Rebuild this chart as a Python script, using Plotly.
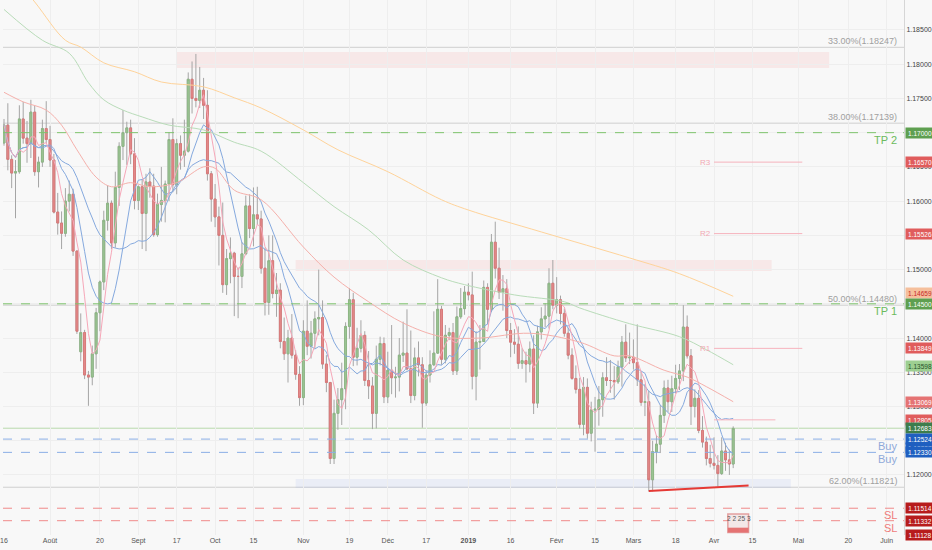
import pandas as pd
import plotly.graph_objects as go

first_day = "2018-07-16"
last_axis_day = "2019-06-07"

# EUR/USD daily bars, 16 juil. 2018 -> 8 avr. 2019
opens = [
    # juil.
    1.1685, 1.1711, 1.1661, 1.1641, 1.1643, 1.1720, 1.1692, 1.1684, 1.1730, 1.1643, 1.1657, 1.1706,
    # août
    1.1690, 1.1660, 1.1584, 1.1568, 1.1553, 1.1600, 1.1610, 1.1527, 1.1380, 1.1408, 1.1346, 1.1343,
    1.1377, 1.1437, 1.1482, 1.1572, 1.1597, 1.1539, 1.1620, 1.1680, 1.1700, 1.1707, 1.1669,
    # sept.
    1.1601, 1.1621, 1.1582, 1.1628, 1.1622, 1.1551, 1.1595, 1.1601, 1.1625, 1.1690, 1.1624, 1.1684,
    1.1667, 1.1673, 1.1778, 1.1750, 1.1747, 1.1762, 1.1740, 1.1640,
    # oct.
    1.1603, 1.1577, 1.1550, 1.1478, 1.1516, 1.1524, 1.1490, 1.1490, 1.1523, 1.1593, 1.1560, 1.1580,
    1.1574, 1.1502, 1.1452, 1.1513, 1.1465, 1.1470, 1.1395, 1.1377, 1.1400, 1.1375, 1.1347,
    # nov.
    1.1313, 1.1410, 1.1388, 1.1407, 1.1428, 1.1430, 1.1362, 1.1335, 1.1224, 1.1290, 1.1310, 1.1326,
    1.1417, 1.1456, 1.1372, 1.1385, 1.1404, 1.1338, 1.1330, 1.1290, 1.1369, 1.1392,
    # déc.
    1.1314, 1.1353, 1.1342, 1.1343, 1.1375, 1.1378, 1.1355, 1.1316, 1.1371, 1.1361, 1.1305, 1.1346,
    1.1361, 1.1378, 1.1442, 1.1369, 1.1404, 1.1408, 1.1352, 1.1431, 1.1443,
    # janv.
    1.1467, 1.1463, 1.1344, 1.1394, 1.1395, 1.1474, 1.1442, 1.1540, 1.1502, 1.1467, 1.1472, 1.1411,
    1.1394, 1.1391, 1.1363, 1.1367, 1.1362, 1.1384, 1.1305, 1.1409, 1.1428, 1.1432, 1.1480,
    # févr.
    1.1448, 1.1456, 1.1436, 1.1407, 1.1375, 1.1341, 1.1325, 1.1274, 1.1328, 1.1261, 1.1295, 1.1296,
    1.1310, 1.1342, 1.1338, 1.1338, 1.1336, 1.1358, 1.1394, 1.1371,
    # mars
    1.1372, 1.1364, 1.1339, 1.1306, 1.1307, 1.1193, 1.1234, 1.1245, 1.1287, 1.1327, 1.1307, 1.1326,
    1.1341, 1.1352, 1.1416, 1.1374, 1.1300, 1.1312, 1.1265, 1.1248, 1.1224,
    # avr.
    1.1217, 1.1214, 1.1202, 1.1235, 1.1222, 1.1216,
]
highs = [
    1.1720, 1.1743, 1.1667, 1.1660, 1.1740, 1.1745, 1.1717, 1.1748, 1.1739, 1.1665, 1.1719, 1.1746,
    1.1710, 1.1669, 1.1612, 1.1585, 1.1619, 1.1630, 1.1618, 1.1528, 1.1436, 1.1412, 1.1352, 1.1389,
    1.1444, 1.1484, 1.1586, 1.1623, 1.1601, 1.1643, 1.1686, 1.1733, 1.1716, 1.1719, 1.1692,
    1.1623, 1.1632, 1.1640, 1.1648, 1.1640, 1.1611, 1.1650, 1.1630, 1.1701, 1.1721, 1.1691, 1.1696,
    1.1719, 1.1788, 1.1804, 1.1815, 1.1796, 1.1780, 1.1762, 1.1644,
    1.1625, 1.1592, 1.1598, 1.1530, 1.1547, 1.1526, 1.1503, 1.1540, 1.1608, 1.1610, 1.1620, 1.1621,
    1.1586, 1.1532, 1.1550, 1.1550, 1.1495, 1.1480, 1.1430, 1.1412, 1.1435, 1.1382, 1.1359,
    1.1426, 1.1455, 1.1425, 1.1439, 1.1500, 1.1455, 1.1375, 1.1336, 1.1310, 1.1327, 1.1364, 1.1423,
    1.1473, 1.1466, 1.1415, 1.1426, 1.1410, 1.1381, 1.1343, 1.1389, 1.1402, 1.1401,
    1.1380, 1.1419, 1.1358, 1.1400, 1.1424, 1.1442, 1.1411, 1.1386, 1.1395, 1.1372, 1.1353, 1.1382,
    1.1439, 1.1486, 1.1447, 1.1419, 1.1415, 1.1422, 1.1446, 1.1473, 1.1476,
    1.1480, 1.1497, 1.1410, 1.1419, 1.1484, 1.1480, 1.1552, 1.1570, 1.1532, 1.1492, 1.1486, 1.1422,
    1.1413, 1.1417, 1.1385, 1.1380, 1.1395, 1.1404, 1.1418, 1.1445, 1.1451, 1.1502, 1.1514,
    1.1489, 1.1462, 1.1443, 1.1415, 1.1385, 1.1360, 1.1342, 1.1343, 1.1341, 1.1307, 1.1314, 1.1330,
    1.1350, 1.1372, 1.1368, 1.1359, 1.1367, 1.1403, 1.1420, 1.1408,
    1.1398, 1.1420, 1.1351, 1.1333, 1.1323, 1.1250, 1.1258, 1.1302, 1.1338, 1.1339, 1.1345, 1.1361,
    1.1362, 1.1448, 1.1433, 1.1384, 1.1325, 1.1324, 1.1286, 1.1256, 1.1244,
    1.1255, 1.1229, 1.1255, 1.1247, 1.1237, 1.1271,
]
lows = [
    1.1681, 1.1645, 1.1619, 1.1575, 1.1640, 1.1684, 1.1656, 1.1663, 1.1637, 1.1620, 1.1650, 1.1685,
    1.1650, 1.1582, 1.1551, 1.1530, 1.1548, 1.1585, 1.1520, 1.1406, 1.1366, 1.1340, 1.1301, 1.1331,
    1.1355, 1.1410, 1.1470, 1.1557, 1.1530, 1.1532, 1.1593, 1.1660, 1.1653, 1.1654, 1.1588,
    1.1587, 1.1530, 1.1527, 1.1605, 1.1548, 1.1548, 1.1570, 1.1569, 1.1600, 1.1613, 1.1610, 1.1646,
    1.1650, 1.1671, 1.1728, 1.1737, 1.1736, 1.1720, 1.1630, 1.1570,
    1.1562, 1.1506, 1.1466, 1.1463, 1.1480, 1.1432, 1.1429, 1.1473, 1.1521, 1.1546, 1.1534, 1.1565,
    1.1494, 1.1433, 1.1434, 1.1458, 1.1431, 1.1385, 1.1368, 1.1335, 1.1370, 1.1339, 1.1301,
    1.1302, 1.1375, 1.1370, 1.1385, 1.1404, 1.1355, 1.1321, 1.1216, 1.1216, 1.1266, 1.1273, 1.1296,
    1.1399, 1.1359, 1.1360, 1.1379, 1.1330, 1.1311, 1.1267, 1.1268, 1.1360, 1.1305,
    1.1305, 1.1318, 1.1313, 1.1322, 1.1365, 1.1353, 1.1305, 1.1309, 1.1344, 1.1269, 1.1301, 1.1335,
    1.1359, 1.1377, 1.1361, 1.1363, 1.1397, 1.1346, 1.1346, 1.1428, 1.1434,
    1.1455, 1.1325, 1.1309, 1.1354, 1.1395, 1.1420, 1.1438, 1.1487, 1.1457, 1.1440, 1.1400, 1.1372,
    1.1377, 1.1355, 1.1355, 1.1335, 1.1350, 1.1289, 1.1298, 1.1398, 1.1416, 1.1414, 1.1442,
    1.1436, 1.1420, 1.1402, 1.1369, 1.1339, 1.1319, 1.1268, 1.1258, 1.1253, 1.1249, 1.1234, 1.1272,
    1.1285, 1.1330, 1.1320, 1.1310, 1.1333, 1.1329, 1.1365, 1.1362,
    1.1354, 1.1330, 1.1301, 1.1286, 1.1176, 1.1176, 1.1217, 1.1232, 1.1276, 1.1292, 1.1292, 1.1319,
    1.1324, 1.1337, 1.1370, 1.1273, 1.1284, 1.1261, 1.1240, 1.1214, 1.1211,
    1.1208, 1.1183, 1.1200, 1.1206, 1.1200, 1.1210,
]
closes = [
    1.1711, 1.1661, 1.1641, 1.1643, 1.1720, 1.1692, 1.1684, 1.1730, 1.1643, 1.1657, 1.1706, 1.1690,
    1.1660, 1.1584, 1.1568, 1.1553, 1.1600, 1.1610, 1.1527, 1.1410, 1.1408, 1.1346, 1.1343, 1.1377,
    1.1437, 1.1482, 1.1572, 1.1597, 1.1539, 1.1620, 1.1680, 1.1700, 1.1707, 1.1669, 1.1601,
    1.1621, 1.1582, 1.1628, 1.1622, 1.1551, 1.1595, 1.1601, 1.1625, 1.1690, 1.1624, 1.1684, 1.1667,
    1.1673, 1.1778, 1.1750, 1.1747, 1.1762, 1.1740, 1.1640, 1.1603,
    1.1577, 1.1550, 1.1478, 1.1516, 1.1524, 1.1490, 1.1490, 1.1523, 1.1593, 1.1560, 1.1580, 1.1574,
    1.1502, 1.1452, 1.1513, 1.1465, 1.1470, 1.1395, 1.1377, 1.1400, 1.1375, 1.1347, 1.1313,
    1.1410, 1.1388, 1.1407, 1.1428, 1.1430, 1.1362, 1.1335, 1.1224, 1.1290, 1.1310, 1.1326, 1.1417,
    1.1456, 1.1372, 1.1385, 1.1404, 1.1338, 1.1330, 1.1290, 1.1369, 1.1392, 1.1314,
    1.1353, 1.1342, 1.1343, 1.1375, 1.1378, 1.1355, 1.1316, 1.1371, 1.1361, 1.1305, 1.1346, 1.1361,
    1.1378, 1.1442, 1.1369, 1.1404, 1.1408, 1.1352, 1.1431, 1.1443, 1.1467,
    1.1463, 1.1344, 1.1394, 1.1395, 1.1474, 1.1442, 1.1540, 1.1502, 1.1467, 1.1472, 1.1411, 1.1394,
    1.1391, 1.1363, 1.1367, 1.1362, 1.1384, 1.1305, 1.1409, 1.1428, 1.1432, 1.1480, 1.1448,
    1.1456, 1.1436, 1.1407, 1.1375, 1.1341, 1.1325, 1.1274, 1.1328, 1.1261, 1.1295, 1.1296, 1.1310,
    1.1342, 1.1338, 1.1338, 1.1336, 1.1358, 1.1394, 1.1371, 1.1372,
    1.1364, 1.1339, 1.1306, 1.1307, 1.1193, 1.1234, 1.1245, 1.1287, 1.1327, 1.1307, 1.1326, 1.1341,
    1.1352, 1.1416, 1.1374, 1.1300, 1.1312, 1.1265, 1.1248, 1.1224, 1.1217,
    1.1214, 1.1202, 1.1235, 1.1222, 1.1216, 1.1268,
]

# long moving averages, sampled off the chart
ma200_dates = ["2018-07-16", "2018-07-26", "2018-08-07", "2018-08-13", "2018-08-21", "2018-08-31",
               "2018-09-11", "2018-09-26", "2018-10-08", "2018-10-17", "2018-11-01", "2018-11-14",
               "2018-12-03", "2018-12-21", "2019-01-01", "2019-01-28", "2019-02-28", "2019-03-19",
               "2019-04-08"]
ma200_vals = [1.1946, 1.1891, 1.1835, 1.1825, 1.1802, 1.1789, 1.1774, 1.1767, 1.1751, 1.1736,
              1.1704, 1.1675, 1.1643, 1.1602, 1.1587, 1.1555, 1.1517, 1.1494, 1.1461]
ma100_dates = ["2018-07-16", "2018-07-30", "2018-08-08", "2018-08-15", "2018-08-21", "2018-08-28",
               "2018-09-04", "2018-09-13", "2018-09-26", "2018-10-08", "2018-10-17", "2018-11-01",
               "2018-11-13", "2018-11-26", "2018-12-07", "2018-12-21", "2018-12-31", "2019-01-17",
               "2019-02-05", "2019-02-11", "2019-02-28", "2019-03-19", "2019-03-28", "2019-04-08"]
ma100_vals = [1.1880, 1.1835, 1.1816, 1.1773, 1.1748, 1.1733, 1.1723, 1.1711, 1.1704, 1.1686,
              1.1673, 1.1627, 1.1592, 1.1558, 1.1514, 1.1488, 1.1478, 1.1463, 1.1453, 1.1444,
              1.1421, 1.1402, 1.1383, 1.1361]
ma50_dates = ["2018-07-16", "2018-07-23", "2018-07-31", "2018-08-06", "2018-08-10", "2018-08-17",
              "2018-08-23", "2018-08-30", "2018-09-06", "2018-09-17", "2018-09-26", "2018-10-01",
              "2018-10-08", "2018-10-17", "2018-11-01", "2018-11-13", "2018-11-26", "2018-12-07",
              "2018-12-21", "2019-01-04", "2019-01-23", "2019-02-11", "2019-02-22", "2019-02-28",
              "2019-03-13", "2019-03-21", "2019-03-28", "2019-04-08"]
ma50_vals = [1.1759, 1.1745, 1.1733, 1.1711, 1.1675, 1.1635, 1.1621, 1.1627, 1.1621, 1.1627,
             1.1650, 1.1648, 1.1616, 1.1602, 1.1533, 1.1489, 1.1453, 1.1422, 1.1402, 1.1400,
             1.1407, 1.1394, 1.1374, 1.1374, 1.1353, 1.1343, 1.1329, 1.1307]

# drawn levels
fib_levels = [1.18247, 1.17139, 1.14480, 1.11821]
fib_texts = ["33.00%(1.18247)", "38.00%(1.17139)", "50.00%(1.14480)", "62.00%(1.11821)"]
tp_levels = [1.17000, 1.14500]
tp_texts = ["TP 2", "TP 1"]
buy_levels = [1.12524, 1.12330]
sl_levels = [1.11514, 1.11332]
pivot_levels = [1.16570, 1.15526, 1.13849, 1.12805]
pivot_names = ["R3", "R2", "R1", ""]
pivot_start = "2019-04-01"
pivot_ends = ["2019-05-02", "2019-05-02", "2019-05-02", "2019-04-23"]
last_price = 1.12683

zone_starts = ["2018-09-17", "2018-10-30", "2018-10-30"]
zone_ends = ["2019-05-13", "2019-04-22", "2019-04-29"]
zone_lows = [1.17945, 1.14980, 1.11810]
zone_highs = [1.18179, 1.15140, 1.11942]
zone_fills = ["rgba(240,150,150,0.16)", "rgba(240,150,150,0.16)", "rgba(150,170,235,0.14)"]

trend_dates = ["2019-03-07", "2019-04-12"]
trend_vals = [1.11765, 1.11845]

# economic-calendar marker under the last bars
event_text = "2 2 25 3"
event_dates = ["2019-04-05", "2019-04-12"]
event_range = [1.11160, 1.11430]

# price-scale tags on the right
tag_prices = [1.17000, 1.16570, 1.15526, 1.14659, 1.14500, 1.13849, 1.13598, 1.13069,
              1.12805, 1.12683, 1.12387, 1.12524, 1.12330, 1.11514, 1.11332, 1.11128]
tag_colors = ["#5e9f50", "#e05c5c", "#e05c5c", "#f5bf9c", "#5e9f50", "#e05c5c", "#9dcf91", "#e57373",
              "#e05c5c", "#3d7d4c", "#1f5fc0", "#1f5fc0", "#1f5fc0", "#b71c1c", "#b71c1c", "#b71c1c"]
tag_text_colors = ["white"] * 3 + ["#c62828"] + ["white"] * 2 + ["#24502a"] + ["white"] * 9

tick_prices = [1.120, 1.125, 1.130, 1.135, 1.140, 1.145, 1.150, 1.155, 1.160, 1.165, 1.170,
               1.175, 1.180, 1.185]
date_ticks = ["2018-07-16", "2018-08-01", "2018-08-20", "2018-09-03", "2018-09-17", "2018-10-01",
              "2018-10-15", "2018-11-01", "2018-11-19", "2018-12-03", "2018-12-17", "2019-01-01",
              "2019-01-16", "2019-02-01", "2019-02-15", "2019-03-01", "2019-03-18", "2019-04-01",
              "2019-04-15", "2019-05-01", "2019-05-20", "2019-06-03"]
date_labels = ["16", "Août", "20", "Sept", "17", "Oct", "15", "Nov", "19", "Déc", "17", "<b>2019</b>",
               "16", "Févr", "15", "Mars", "18", "Avr", "15", "Mai", "20", "Juin"]

days = pd.bdate_range(first_day, last_axis_day).strftime("%Y-%m-%d").tolist()
bars = days[:len(closes)]
pos = {d: i for i, d in enumerate(days)}

close_s = pd.Series(closes)
sma5 = close_s.rolling(5, min_periods=1).mean()
sma10 = close_s.rolling(10, min_periods=1).mean()
sma20 = close_s.rolling(20, min_periods=1).mean()
body_top = [max(o, c) for o, c in zip(opens, closes)]
body_bot = [min(o, c) for o, c in zip(opens, closes)]

font = "Liberation Sans, Arial, sans-serif"
up_col = "#9dc595"
down_col = "#e48b8b"
fig = go.Figure()

shapes = []
for x0, x1, lo, hi, fc in zip(zone_starts, zone_ends, zone_lows, zone_highs, zone_fills):
    shapes.append(dict(type="rect", xref="x", yref="y", x0=pos[x0], x1=pos[x1], y0=lo, y1=hi,
                       fillcolor=fc, line=dict(width=0), layer="below"))
for lv in fib_levels:
    shapes.append(dict(type="line", xref="paper", yref="y", x0=0, x1=1, y0=lv, y1=lv,
                       line=dict(color="#cfcfcf", width=1), layer="below"))
shapes.append(dict(type="line", xref="paper", yref="y", x0=0, x1=1, y0=last_price, y1=last_price,
                   line=dict(color="#b9d9ac", width=1), layer="below"))
for lv in tp_levels:
    shapes.append(dict(type="line", xref="paper", yref="y", x0=0, x1=1, y0=lv, y1=lv,
                       line=dict(color="#7dc36b", width=1, dash="dash")))
for lv in buy_levels:
    shapes.append(dict(type="line", xref="paper", yref="y", x0=0, x1=1, y0=lv, y1=lv,
                       line=dict(color="#8aaee6", width=1, dash="dash")))
for lv in sl_levels:
    shapes.append(dict(type="line", xref="paper", yref="y", x0=0, x1=1, y0=lv, y1=lv,
                       line=dict(color="#f08a8a", width=1, dash="dash")))
for lv, end in zip(pivot_levels, pivot_ends):
    shapes.append(dict(type="line", xref="x", yref="y", x0=pos[pivot_start], x1=pos[end], y0=lv, y1=lv,
                       line=dict(color="#f6b3bd", width=1)))
shapes.append(dict(type="line", xref="x", yref="y", x0=pos[trend_dates[0]], x1=pos[trend_dates[1]],
                   y0=trend_vals[0], y1=trend_vals[1], line=dict(color="#e53935", width=2)))
# calendar badge
shapes.append(dict(type="rect", xref="x", yref="y", x0=pos[event_dates[0]] - 0.4, x1=pos[event_dates[1]],
                   y0=event_range[0], y1=event_range[1], fillcolor="#f3e7e7",
                   line=dict(color="#e3a0a0", width=1.5)))
shapes.append(dict(type="rect", xref="x", yref="y", x0=pos[event_dates[0]] - 0.4, x1=pos[event_dates[1]],
                   y0=event_range[0], y1=event_range[0] + 0.0007, fillcolor="#e57373",
                   line=dict(width=0)))

for vals, col in [(sma20, "#85a9de"), (sma10, "#85a9de"), (sma5, "#f6a7b8")]:
    fig.add_trace(go.Scatter(x=bars, y=vals, mode="lines", line=dict(color=col, width=1),
                             hoverinfo="skip"))
for dts, vals, col in [(ma200_dates, ma200_vals, "#ffd39a"), (ma100_dates, ma100_vals, "#b9dcb9"),
                       (ma50_dates, ma50_vals, "#f5b0ab")]:
    fig.add_trace(go.Scatter(x=dts, y=vals, mode="lines", line=dict(color=col, width=1, shape="spline"),
                             hoverinfo="skip"))

# gray wicks
fig.add_trace(go.Candlestick(
    x=bars, open=opens, high=highs, low=lows, close=closes,
    increasing=dict(line=dict(color="#a5a5a5", width=1), fillcolor=up_col),
    decreasing=dict(line=dict(color="#a5a5a5", width=1), fillcolor=down_col),
    whiskerwidth=0,
))
# coloured bodies on top
fig.add_trace(go.Candlestick(
    x=bars, open=opens, high=body_top, low=body_bot, close=closes,
    increasing=dict(line=dict(color="#8db785", width=1), fillcolor=up_col),
    decreasing=dict(line=dict(color="#d97a7a", width=1), fillcolor=down_col),
    whiskerwidth=0, hoverinfo="skip",
))

ann = []
for lv, t in zip(fib_levels, fib_texts):
    ann.append(dict(xref="paper", yref="y", x=0.995, y=lv, text=t, showarrow=False, xanchor="right",
                    yanchor="bottom", yshift=-1, font=dict(size=9, color="#a0a0a0", family=font)))
for lv, t in zip(tp_levels, tp_texts):
    ann.append(dict(xref="paper", yref="y", x=0.995, y=lv, text=t, showarrow=False, xanchor="right",
                    yanchor="top", yshift=1, font=dict(size=11, color="#6cbb5c", family=font)))
for lv in buy_levels:
    ann.append(dict(xref="paper", yref="y", x=0.995, y=lv, text="Buy", showarrow=False, xanchor="right",
                    yanchor="top", yshift=1, font=dict(size=11, color="#8fa9d9", family=font)))
for lv in sl_levels:
    ann.append(dict(xref="paper", yref="y", x=0.995, y=lv, text="SL", showarrow=False, xanchor="right",
                    yanchor="top", yshift=1, font=dict(size=11, color="#ef7b7b", family=font)))
for lv, name in zip(pivot_levels, pivot_names):
    if name:
        ann.append(dict(xref="x", yref="y", x=pos[pivot_start] - 0.3, y=lv, text=name, showarrow=False,
                        xanchor="right", yanchor="middle", font=dict(size=8, color="#f2a9b4", family=font)))
ann.append(dict(xref="x", yref="y", x=(pos[event_dates[0]] + pos[event_dates[1]]) / 2, y=event_range[1],
                text=event_text, showarrow=False, xanchor="center", yanchor="middle", yshift=-5,
                font=dict(size=6.5, color="#555555", family=font)))
for p, bg, fc in zip(tag_prices, tag_colors, tag_text_colors):
    ann.append(dict(xref="paper", yref="y", x=1, y=p, text="%.5f" % p, showarrow=False, xanchor="left",
                    yanchor="middle", xshift=1, width=26, height=8, bgcolor=bg, borderpad=1,
                    font=dict(size=6.5, color=fc, family=font)))

fig.update_layout(
    width=932, height=550,
    margin=dict(l=0, r=28, t=0, b=15),
    paper_bgcolor="#f8f8f8", plot_bgcolor="#f8f8f8",
    showlegend=False,
    shapes=shapes, annotations=ann,
    xaxis=dict(type="category", categoryorder="array", categoryarray=days,
               range=[-0.26, 234.5], tickmode="array", tickvals=date_ticks, ticktext=date_labels,
               tickfont=dict(size=7, color="#555555", family=font), showgrid=True, gridcolor="#eeeeee",
               rangeslider=dict(visible=False), showline=False, zeroline=False, ticks=""),
    yaxis=dict(side="right", range=[1.11123, 1.18938], tickmode="array", tickvals=tick_prices,
               ticktext=["%.5f" % v for v in tick_prices], tickfont=dict(size=7, color="#444444", family=font),
               showgrid=True, gridcolor="#eeeeee", showline=True, linecolor="#d6d6d6", zeroline=False,
               ticks=""),
)

fig.write_html("out.html", config={"displayModeBar": False},
               post_script="document.body.style.margin='0';")
